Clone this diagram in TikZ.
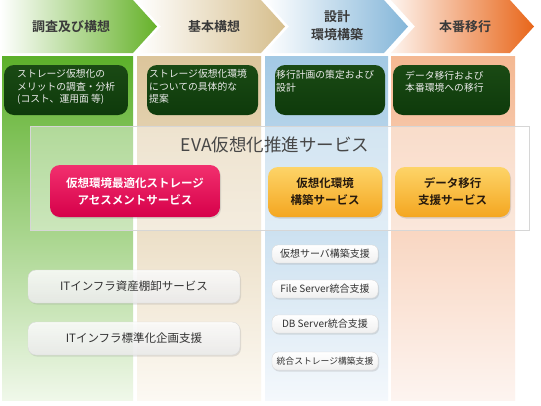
\documentclass[tikz,border=0pt]{standalone}
\usepackage{fontspec}
\setmainfont{Noto Sans CJK JP}[BoldFont={Noto Sans CJK JP Bold}]
\usetikzlibrary{shadows}
\definecolor{hdgreen}{HTML}{66B22A}
\definecolor{hdtan}{HTML}{D6BE8C}
\definecolor{hdblue}{HTML}{84B6D9}
\definecolor{hdorange}{HTML}{E8661A}
\definecolor{hdorangem}{HTML}{F4B48E}
\definecolor{cgreen}{HTML}{5CB02A}
\definecolor{cgreenb}{HTML}{F0F8EA}
\definecolor{ctan}{HTML}{DCC59B}
\definecolor{ctanb}{HTML}{FCF9F3}
\definecolor{cblue}{HTML}{A3C9E4}
\definecolor{cblueb}{HTML}{F4F8FC}
\definecolor{corange}{HTML}{F4B892}
\definecolor{coranges}{HTML}{FDF4F0}
\definecolor{darkbox}{HTML}{0E3A0B}
\definecolor{darkboxt}{HTML}{1A4A14}
\definecolor{pinkt}{HTML}{F2306E}
\definecolor{pinkb}{HTML}{D6004A}
\definecolor{yelt}{HTML}{FDD468}
\definecolor{yelb}{HTML}{F4A620}
\definecolor{hdtext}{HTML}{3A3A3A}
\definecolor{boxtext}{HTML}{333333}
\begin{document}
\begin{tikzpicture}[x=1pt,y=-1pt,
  hdtxt/.style={font=\fontsize{13}{18}\selectfont\bfseries, text=hdtext, align=center, inner sep=0pt},
  gbox/.style={rounded corners=10pt, top color=darkboxt, bottom color=darkbox, draw=none, inner sep=0pt},
  gtxt/.style={font=\fontsize{9.8}{12.5}\selectfont, text=black!8, align=left, anchor=north west, inner sep=0pt},
  pinkbox/.style={rounded corners=10pt, top color=pinkt, bottom color=pinkb, text=white, align=center,
     font=\fontsize{11.5}{17}\selectfont\bfseries, inner sep=0pt,
     drop shadow={opacity=0.25, shadow xshift=1pt, shadow yshift=-1.5pt}},
  yelbox/.style={rounded corners=10pt, top color=yelt, bottom color=yelb, text=black!80!brown, align=center,
     font=\fontsize{11.5}{17}\selectfont\bfseries, inner sep=0pt,
     drop shadow={opacity=0.25, shadow xshift=1pt, shadow yshift=-1.5pt}},
  wbox/.style={rounded corners=8pt, top color=white, bottom color=white!93!black, fill opacity=0.85, text opacity=1,
     draw=black!15, text=boxtext, inner sep=0pt, font=\fontsize{11.5}{14}\selectfont,
     drop shadow={opacity=0.2, shadow xshift=1pt, shadow yshift=-1.5pt}},
  sbox/.style={rounded corners=6pt, top color=white, bottom color=white!94!black,
     draw=black!15, text=boxtext, inner sep=0pt, minimum width=106pt, minimum height=18pt,
     font=\fontsize{10}{12}\selectfont,
     drop shadow={opacity=0.22, shadow xshift=1pt, shadow yshift=-1.5pt}}
]
\useasboundingbox (0,0) rectangle (541,405);
\fill[white] (0,0) rectangle (541,405);

% header chevrons
\shade[left color=white, right color=hdgreen] (0,0) -- (133,0) -- (157,26.5) -- (133,53) -- (0,53) -- cycle;
\shade[left color=white, right color=hdtan] (137,0) -- (261,0) -- (285,26.5) -- (261,53) -- (137,53) -- (161,26.5) -- cycle;
\shade[left color=white, right color=hdblue] (265,0) -- (384,0) -- (408,26.5) -- (384,53) -- (265,53) -- (289,26.5) -- cycle;
\shade[left color=white!85!hdorangem, middle color=hdorangem, right color=hdorange] (391,0) -- (510,0) -- (534,26.5) -- (510,53) -- (391,53) -- (415,26.5) -- cycle;

\node[hdtxt] (h1) at (71,27) {調査及び構想};
\node[hdtxt] (h2) at (214,27) {基本構想};
\node[hdtxt] (h3) at (337,26) {設計\\環境構築};
\node[hdtxt] (h4) at (465,27) {本番移行};

% column bodies
\shade[top color=cgreen, bottom color=cgreenb] (2,56) rectangle (133,400);
\shade[top color=ctan, bottom color=ctanb] (137,56) rectangle (261,400);
\shade[top color=cblue, bottom color=cblueb] (265,56) rectangle (388,400);
\shade[top color=corange, bottom color=coranges] (391,56) rectangle (515,400);

% dark green boxes
\node[gbox, minimum width=124pt, minimum height=50pt] (d1) at (66,90) {};
\node[gbox, minimum width=111pt, minimum height=50pt] (d2) at (202.5,90) {};
\node[gbox, minimum width=110pt, minimum height=50pt] (d3) at (330,90) {};
\node[gbox, minimum width=117pt, minimum height=50pt] (d4) at (451.5,90) {};
\node[gtxt] (t1) at (17,69.5) {ストレージ仮想化の\\メリットの調査・分析\\(コスト、運用面 等)};
\node[gtxt] (t2) at (149,69.5) {ストレージ仮想化環境\\についての具体的な\\提案};
\node[gtxt] (t3) at (276,70.5) {移行計画の策定および\\設計};
\node[gtxt] (t4) at (405,70.5) {データ移行および\\本番環境への移行};

% EVA overlay
\fill[white, opacity=0.42] (30,126) rectangle (529,230);
\draw[black!16] (30,126) rectangle (529,230);
\node[font=\fontsize{17.5}{20}\selectfont, text=black!72, inner sep=0pt] (eva) at (275,145) {EVA仮想化推進サービス};

\node[pinkbox, minimum width=170pt, minimum height=52pt] (p1) at (135,191) {仮想環境最適化ストレージ\\アセスメントサービス};
\node[yelbox, minimum width=114pt, minimum height=50pt] (y1) at (325,192) {仮想化環境\\構築サービス};
\node[yelbox, minimum width=115pt, minimum height=50pt] (y2) at (452.5,192) {データ移行\\支援サービス};

% lower left white boxes
\node[wbox, minimum width=212pt, minimum height=33pt] (w1) at (134,286.5) {ITインフラ資産棚卸サービス};
\node[wbox, minimum width=212pt, minimum height=33pt] (w2) at (134,338.5) {ITインフラ標準化企画支援};

% small boxes
\node[sbox] (s1) at (325,254) {仮想サーバ構築支援};
\node[sbox] (s2) at (325,289) {File Server統合支援};
\node[sbox] (s3) at (325,324) {DB Server統合支援};
\node[sbox, font=\fontsize{8.8}{11}\selectfont] (s4) at (325,361) {統合ストレージ構築支援};
\end{tikzpicture}
\end{document}
